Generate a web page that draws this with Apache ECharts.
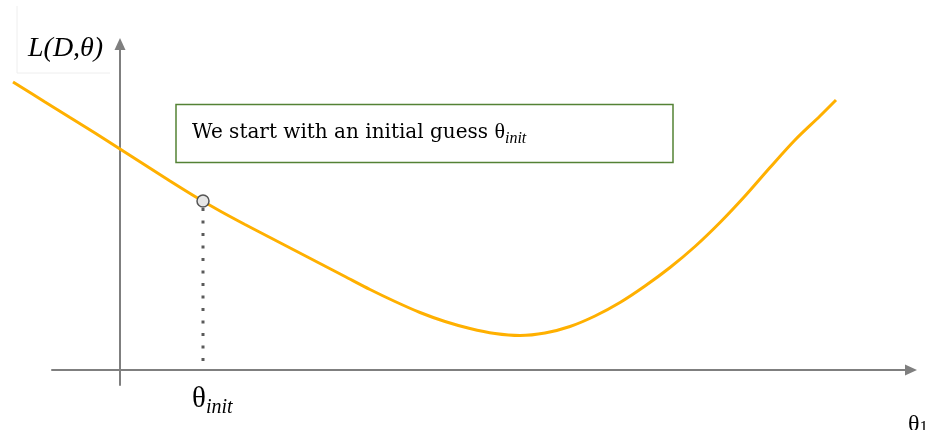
<!DOCTYPE html>
<html>
<head>
<meta charset="utf-8">
<script src="https://cdn.jsdelivr.net/npm/echarts@6/dist/echarts.min.js"></script>
<style>
  html, body { margin: 0; padding: 0; background: #ffffff; }
  #chart { width: 933px; height: 430px; }
</style>
</head>
<body>
<div id="chart"></div>
<script>
// Loss curve L(D, θ) sampled along θ1
const theta = [-1.07, -0.75, -0.50, -0.25, 0.00, 0.25, 0.50, 0.75, 1.00, 1.25, 1.50, 1.75,
               2.00, 2.25, 2.50, 2.75, 3.00, 3.25, 3.50, 3.75, 4.00, 4.25, 4.50, 4.75,
               5.00, 5.25, 5.50, 5.75, 6.00, 6.25, 6.50, 6.75, 7.00, 7.16];
const loss  = [2.88, 2.68, 2.525, 2.37, 2.21, 2.05, 1.89, 1.735, 1.59, 1.455, 1.325, 1.195,
               1.065, 0.935, 0.805, 0.685, 0.575, 0.485, 0.415, 0.365, 0.345, 0.37, 0.435, 0.54,
               0.675, 0.84, 1.025, 1.235, 1.475, 1.74, 2.025, 2.30, 2.54, 2.70];

// Starting point of gradient descent
const thetaInit = 0.83;
const lossInit = 1.69;

// Axis extents: the drawn axes, and the wider plotting window for the curve
const thetaAxisRange = [-0.68, 7.91];
const thetaPlotRange = [-1.07, 7.91];
const lossRange = [-0.15, 3.26];

// Texts
const yName = 'L(D,θ)';
const xName = ['θ', '1'];
const initName = ['θ', 'init'];
const note = ['We start with an initial guess ', 'θ', 'init'];

const axisGray = '#7f7f7f';
const curveColor = '#FFB000';
const serif = '"Liberation Serif", "DejaVu Serif", serif';
const wideSerif = '"DejaVu Serif", "Liberation Serif", serif';

const chart = echarts.init(document.getElementById('chart'), null, { renderer: 'canvas' });

function axisOf(range, gridIndex, visible) {
  return {
    type: 'value',
    gridIndex: gridIndex,
    min: range[0],
    max: range[1],
    axisLine: {
      show: visible,
      onZero: true,
      symbol: ['none', 'triangle'],
      symbolSize: [11, 12],
      lineStyle: { color: axisGray, width: 2 }
    },
    axisTick: { show: false },
    axisLabel: { show: false },
    splitLine: { show: false }
  };
}

chart.setOption({
  animation: false,
  grid: [
    { left: 52, right: 22, top: 44, bottom: 45 },   // axes
    { left: 13, right: 22, top: 44, bottom: 45 }    // curve and marks
  ],
  xAxis: [axisOf(thetaAxisRange, 0, true), axisOf(thetaPlotRange, 1, false)],
  yAxis: [axisOf(lossRange, 0, true), axisOf(lossRange, 1, false)],
  series: [
    {
      type: 'line',
      xAxisIndex: 1, yAxisIndex: 1,
      data: theta.map((t, i) => [t, loss[i]]),
      smooth: 0.3,
      showSymbol: false,
      lineStyle: { color: curveColor, width: 3 },
      z: 3
    },
    {
      type: 'line',
      xAxisIndex: 1, yAxisIndex: 1,
      data: [[thetaInit, lossInit], [thetaInit, 0]],
      showSymbol: false,
      lineStyle: { color: '#5a5a5a', width: 3, type: [3, 9.5], dashOffset: 5.5, cap: 'butt' },
      z: 2
    },
    {
      type: 'scatter',
      xAxisIndex: 1, yAxisIndex: 1,
      data: [[thetaInit, lossInit]],
      symbolSize: 12,
      itemStyle: { color: '#e6e6e6', borderColor: '#555555', borderWidth: 1.5, opacity: 1 },
      z: 4
    }
  ]
});

// text measuring helper
const ctx = document.createElement('canvas').getContext('2d');
function textWidth(str, font) { ctx.font = font; return ctx.measureText(str).width; }

const pInit = chart.convertToPixel({ xAxisIndex: 1, yAxisIndex: 1 }, [thetaInit, 0]);
const pEnd = chart.convertToPixel({ xAxisIndex: 0, yAxisIndex: 0 }, [thetaAxisRange[1], 0]);

const bigTheta = '29px ' + serif;
const subFont = 'italic 20px ' + serif;
const endTheta = '24px ' + serif;
const noteFont = '20px ' + wideSerif;
const noteTheta = '22px ' + serif;
const noteSub = 'italic 16px ' + serif;

const initX = pInit[0] - 11;
const noteX = 192;
const noteW = textWidth(note[0], noteFont);
const thetaW = textWidth(note[1], noteTheta);

chart.setOption({
  graphic: [
    // faint frame around the loss label
    { type: 'polyline', shape: { points: [[17, 6], [17, 73], [110, 73]] }, style: { stroke: '#eeeeee', lineWidth: 1, fill: null } },
    { type: 'text', x: 28, y: 49, style: { text: yName, font: 'italic 28px ' + serif, fill: '#000', textVerticalAlign: 'middle' } },

    // annotation box
    { type: 'rect', shape: { x: 176, y: 104.5, width: 497, height: 58 }, style: { fill: '#fff', stroke: '#548235', lineWidth: 1.5 } },
    { type: 'text', x: noteX, y: 133, style: { text: note[0], font: noteFont, fill: '#000', textVerticalAlign: 'middle' } },
    { type: 'text', x: noteX + noteW, y: 132, style: { text: note[1], font: noteTheta, fill: '#000', textVerticalAlign: 'middle' } },
    { type: 'text', x: noteX + noteW + thetaW, y: 139, style: { text: note[2], font: noteSub, fill: '#000', textVerticalAlign: 'middle' } },

    // θ_init below the axis
    { type: 'text', x: initX, y: 399, style: { text: initName[0], font: bigTheta, fill: '#000', textVerticalAlign: 'middle' } },
    { type: 'text', x: initX + textWidth(initName[0], bigTheta), y: 408, style: { text: initName[1], font: subFont, fill: '#000', textVerticalAlign: 'middle' } },

    // θ1 at the end of the horizontal axis
    { type: 'text', x: pEnd[0] - 3, y: 425, style: { text: xName[0], font: endTheta, fill: '#000', textVerticalAlign: 'middle' } },
    { type: 'text', x: pEnd[0] - 3 + textWidth(xName[0], endTheta), y: 428, style: { text: xName[1], font: '17px ' + serif, fill: '#000', textVerticalAlign: 'middle' } }
  ]
});
</script>
</body>
</html>
